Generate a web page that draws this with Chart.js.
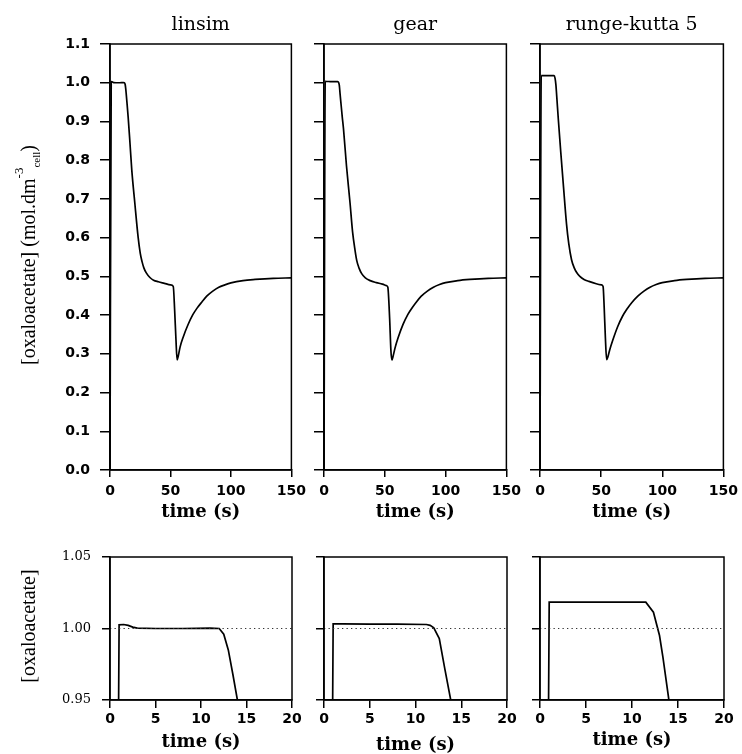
<!DOCTYPE html>
<html>
<head>
<meta charset="utf-8">
<script src="https://cdn.jsdelivr.net/npm/chart.js@4.4.1/dist/chart.umd.min.js"></script>
<style>
  html, body { margin: 0; padding: 0; background: #fff; width: 742px; height: 754px; overflow: hidden; }
  #wrap { position: relative; width: 742px; height: 754px; }
  canvas { position: absolute; }
</style>
</head>
<body>
<div id="wrap"></div>
<script>
// integrators compared
const methods = ['linsim', 'gear', 'runge-kutta 5'];

// oxaloacetate (mol.dm-3 cell) against time (s), one run per integrator
const linsimTime = [0, 1, 1.5, 2, 2.5, 3, 5, 8, 11, 12, 12.5, 13, 13.5, 14, 15, 16.5, 18, 20.5, 23.3, 25,
  26.5, 28, 30, 33, 36, 40, 45, 50, 52.3, 53.5, 54.5, 55.5, 56.5, 58, 60.5, 64.5, 68.5, 72, 76, 80,
  85, 90, 95, 100, 110, 120, 135, 150];
const linsimConc = [0, 1.0026, 1.0028, 1.0022, 1.001, 1.0003, 1.0, 1.0, 1.0002, 1.0, 0.996, 0.985, 0.968, 0.95, 0.912, 0.845, 0.775, 0.69, 0.60, 0.56,
  0.538, 0.522, 0.509, 0.497, 0.49, 0.486, 0.482, 0.478, 0.474, 0.41, 0.34, 0.284, 0.295, 0.318, 0.343, 0.375, 0.401, 0.418, 0.434, 0.449,
  0.462, 0.472, 0.478, 0.483, 0.489, 0.492, 0.495, 0.496];

const gearTime = [0, 1, 2, 5, 8, 11.2, 11.6, 12, 12.6, 13.2, 13.85, 15, 16, 18.5, 21.4, 23.5, 25.5, 27, 29, 31,
  34, 38, 43, 48, 51.5, 52.5, 54, 55, 55.8, 57, 58.5, 61, 65, 69, 72.5, 76, 80, 85, 90, 95,
  100, 110, 120, 135, 150];
const gearConc = [0, 1.0033, 1.0032, 1.0031, 1.003, 1.0028, 1.0022, 1.0005, 0.993, 0.972, 0.95, 0.912, 0.882, 0.785, 0.69, 0.615, 0.568, 0.54, 0.52, 0.507,
  0.496, 0.489, 0.484, 0.48, 0.476, 0.472, 0.39, 0.31, 0.284, 0.296, 0.316, 0.342, 0.376, 0.402, 0.419, 0.434, 0.449, 0.462, 0.472, 0.479,
  0.484, 0.489, 0.492, 0.495, 0.496];

const rkTime = [0, 1, 3, 6, 9, 11.5, 12.33, 12.99, 13.36, 14, 15, 17, 19, 21.7, 23.5, 25.8, 28, 30, 32.6, 36,
  40, 46, 50.3, 51.6, 52.5, 53.5, 54.5, 55.5, 57, 59.5, 63.5, 67.5, 71, 75, 80, 85, 90, 95, 100, 110,
  120, 135, 150];
const rkConc = [0, 1.0184, 1.0184, 1.0184, 1.0184, 1.0184, 1.0114, 0.9951, 0.98, 0.9505, 0.905, 0.82, 0.74, 0.635, 0.585, 0.543, 0.522, 0.51, 0.5, 0.492,
  0.487, 0.481, 0.478, 0.474, 0.42, 0.34, 0.285, 0.292, 0.31, 0.335, 0.37, 0.397, 0.415, 0.432, 0.449, 0.462, 0.472, 0.479, 0.484, 0.489,
  0.492, 0.495, 0.496];

// dotted reference level in the close-up panels
const unitLevel = 1.0;

// tick values
const fullTicksX = [0, 50, 100, 150];
const fullTicksY = [0.0, 0.1, 0.2, 0.3, 0.4, 0.5, 0.6, 0.7, 0.8, 0.9, 1.0, 1.1];
const zoomTicksX = [0, 5, 10, 15, 20];
const zoomTicksY = [0.95, 1.00, 1.05];

const timeLabel = 'time (s)';
const concLabelFull = [
  { text: '[oxaloacetate] (mol.dm', size: 20, shift: 0 },
  { text: '-3', size: 13, shift: 12 },
  { text: 'cell', size: 11, shift: -5 },
  { text: ')', size: 20, shift: 0 }
];
const concLabelZoom = [{ text: '[oxaloacetate]', size: 20, shift: 0 }];

const runs = [
  { time: linsimTime, conc: linsimConc },
  { time: gearTime, conc: gearConc },
  { time: rkTime, conc: rkConc }
];

// ---- layout ----
const panelX = [110, 324, 540];
const panelW = [182, 183, 184];
const AXIS_W = 110;
const RIGHT_PAD = 20;
const zoomTitlePad = [7, 4, 9];

Chart.defaults.color = '#000';
Chart.defaults.font.family = 'DejaVu Sans';

// box round the plot area
const framePlugin = {
  id: 'frame',
  afterDraw(chart) {
    const { left, top, right, bottom } = chart.chartArea;
    const ctx = chart.ctx;
    ctx.save();
    ctx.strokeStyle = '#000';
    ctx.lineWidth = 1.5;
    ctx.strokeRect(left, top, right - left, bottom - top);
    ctx.restore();
  }
};

// rotated y title with super/subscripts
function sideLabel(parts, x, y) {
  return {
    id: 'sideLabel',
    afterDraw(chart) {
      const ctx = chart.ctx;
      ctx.save();
      ctx.fillStyle = '#000';
      ctx.textBaseline = 'alphabetic';
      let total = 0;
      parts.forEach(p => {
        ctx.font = p.size + 'px "Liberation Serif"';
        total += ctx.measureText(p.text).width;
      });
      ctx.translate(x, y);
      ctx.rotate(-Math.PI / 2);
      let pos = -total / 2;
      parts.forEach(p => {
        ctx.font = p.size + 'px "Liberation Serif"';
        ctx.fillText(p.text, pos, -p.shift);
        pos += ctx.measureText(p.text).width;
      });
      ctx.restore();
    }
  };
}

function useTicks(values) {
  return scale => { scale.ticks = values.map(v => ({ value: v })); };
}

function addPanel(i, zoom) {
  const run = runs[i];
  const canvas = document.createElement('canvas');
  canvas.width = AXIS_W + panelW[i] + RIGHT_PAD;
  canvas.height = zoom ? 230 : 530;
  canvas.style.left = (panelX[i] - AXIS_W) + 'px';
  canvas.style.top = (zoom ? 530 : 0) + 'px';
  document.getElementById('wrap').appendChild(canvas);

  const points = run.time.map((t, k) => ({ x: t, y: run.conc[k] }));
  const datasets = [];
  if (zoom) {
    datasets.push({
      data: [{ x: zoomTicksX[0], y: unitLevel }, { x: zoomTicksX[zoomTicksX.length - 1], y: unitLevel }],
      borderColor: '#333', borderWidth: 1.1, borderDash: [1.3, 3.2], pointRadius: 0
    });
  }
  datasets.push({
    data: points,
    borderColor: '#000',
    borderWidth: 1.7,
    pointRadius: 0,
    tension: 0,
    cubicInterpolationMode: zoom ? 'default' : 'monotone'
  });

  const tickFont = { family: 'DejaVu Sans', size: 14, weight: 'bold' };
  const axisLine = { display: true, color: '#000', width: 1.6 };

  const extra = [framePlugin];
  if (i === 0) {
    extra.push(zoom ? sideLabel(concLabelZoom, 35, 96) : sideLabel(concLabelFull, 35, 255));
  }

  new Chart(canvas, {
    type: 'line',
    data: { datasets },
    options: {
      responsive: false,
      animation: false,
      events: [],
      layout: { padding: { top: zoom ? 27 : 0, right: RIGHT_PAD, left: 0, bottom: 0 } },
      plugins: {
        legend: { display: false },
        tooltip: { enabled: false },
        title: {
          display: !zoom,
          text: methods[i],
          fullSize: false,
          color: '#000',
          font: { family: 'DejaVu Serif', size: 19, weight: 'normal' },
          padding: { top: 14, bottom: 7.2 }
        }
      },
      scales: {
        x: {
          type: 'linear',
          min: 0,
          max: zoom ? 20 : 150,
          afterBuildTicks: useTicks(zoom ? zoomTicksX : fullTicksX),
          afterFit: s => { s.height = 60; },
          grid: { drawOnChartArea: false, drawTicks: true, tickLength: zoom ? 8 : 7, color: '#000', lineWidth: 1.5 },
          border: axisLine,
          ticks: { font: tickFont, color: '#000', padding: zoom ? 3 : 6, maxRotation: 0, callback: v => String(v) },
          title: {
            display: true,
            text: timeLabel,
            color: '#000',
            font: { family: 'DejaVu Serif', size: 18, weight: 'bold' },
            padding: { top: 0, bottom: zoom ? zoomTitlePad[i] : 7 }
          }
        },
        y: {
          min: zoom ? 0.95 : 0,
          max: zoom ? 1.05 : 1.1,
          afterBuildTicks: useTicks(zoom ? zoomTicksY : fullTicksY),
          afterFit: s => { s.width = AXIS_W; },
          grid: { drawOnChartArea: false, drawTicks: true, tickLength: zoom ? 8 : 10, color: '#000', lineWidth: 1.5 },
          border: axisLine,
          ticks: {
            display: i === 0,
            font: zoom ? { family: 'DejaVu Serif', size: 13, weight: 'normal' } : tickFont,
            color: '#000',
            padding: zoom ? 11 : 10,
            callback: v => v.toFixed(zoom ? 2 : 1)
          }
        }
      }
    },
    plugins: extra
  });
}

for (let i = 0; i < 3; i++) {
  addPanel(i, false);
  addPanel(i, true);
}
</script>
</body>
</html>
